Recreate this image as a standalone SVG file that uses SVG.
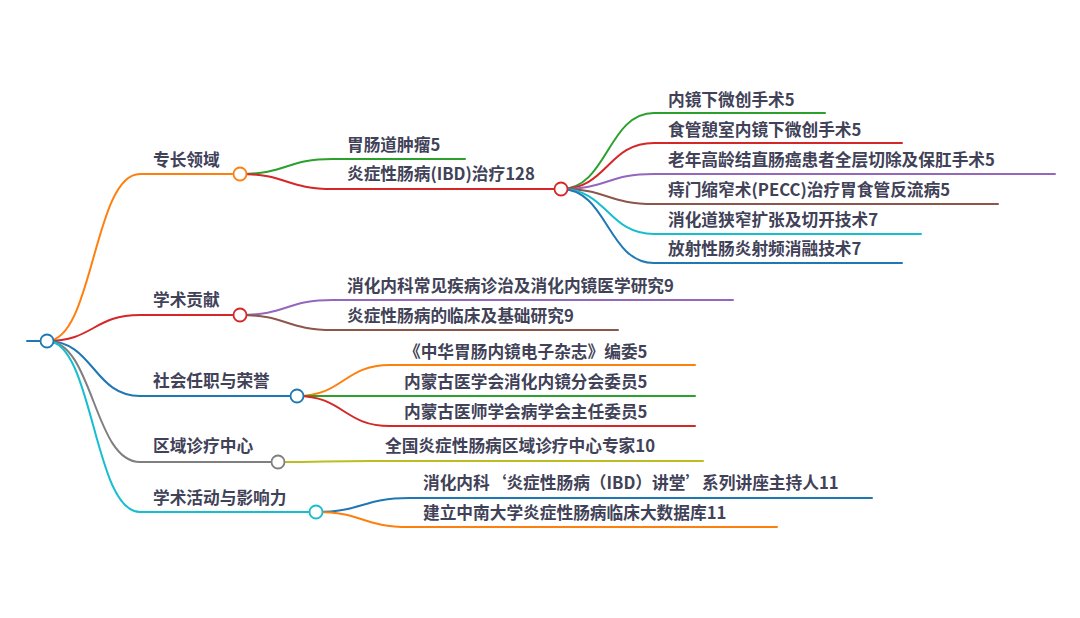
<svg xmlns="http://www.w3.org/2000/svg" width="1080" height="618" viewBox="0 0 1080 618">
<style>
.t{font-family:"Noto Sans CJK SC","Microsoft YaHei",sans-serif;font-size:16.7px;font-weight:700;fill:#414258}
.l{fill:none;stroke-width:2;stroke-linecap:round}
.c{fill:#fff;stroke-width:1.8}
.k{fill:none;stroke-width:2}
.blue{stroke:#1f77b4}.orange{stroke:#ff7f0e}.green{stroke:#2ca02c}.red{stroke:#d62728}.purple{stroke:#9467bd}.brown{stroke:#8c564b}.grey{stroke:#7f7f7f}.olive{stroke:#bcbd22}.cyan{stroke:#17becf}
</style>
<rect width="1080" height="618" fill="#fff"/>
<g id="connectors">
<path class="k orange" d="M47 341 C93.5 341 93.5 174 140 174"/>
<path class="k red" d="M47 341 C93.5 341 93.5 315 140 315"/>
<path class="k blue" d="M47 341 C93.5 341 93.5 396 140 396"/>
<path class="k grey" d="M47 341 C93.5 341 93.5 462 140 462"/>
<path class="k cyan" d="M47 341 C93.5 341 93.5 512 140 512"/>
<path class="k green" d="M240 174 C286.5 174 286.5 159 333 159"/>
<path class="k red" d="M240 174 C286.5 174 286.5 189 333 189"/>
<path class="k green" d="M561 189 C607.5 189 607.5 113 654 113"/>
<path class="k red" d="M561 189 C607.5 189 607.5 143 654 143"/>
<path class="k purple" d="M561 189 C607.5 189 607.5 174 654 174"/>
<path class="k brown" d="M561 189 C607.5 189 607.5 204 654 204"/>
<path class="k cyan" d="M561 189 C607.5 189 607.5 234 654 234"/>
<path class="k blue" d="M561 189 C607.5 189 607.5 263 654 263"/>
<path class="k purple" d="M240 315 C286.5 315 286.5 300 333 300"/>
<path class="k brown" d="M240 315 C286.5 315 286.5 330 333 330"/>
<path class="k orange" d="M297 396 C343.5 396 343.5 365 390 365"/>
<path class="k green" d="M297 396 C343.5 396 343.5 396 390 396"/>
<path class="k red" d="M297 396 C343.5 396 343.5 426 390 426"/>
<path class="k olive" d="M278 462 C324.5 462 324.5 461 371 461"/>
<path class="k blue" d="M316 512 C362.5 512 362.5 498 409 498"/>
<path class="k orange" d="M316 512 C362.5 512 362.5 527 409 527"/>
</g>
<g id="root"><path class="l blue" d="M27 341 H47"/><circle class="c blue" cx="47" cy="341" r="6.5"/></g>
<g id="n1"><path class="l orange" d="M140 174 H240"/><text class="t" x="153" y="166">专长领域</text><circle class="c orange" cx="240" cy="174" r="6.5"/></g>
<g id="n1a"><path class="l green" d="M333 159 H465"/><text class="t" x="347" y="151">胃肠道肿瘤5</text></g>
<g id="n1b"><path class="l red" d="M333 189 H561"/><text class="t" x="347" y="180">炎症性肠病(IBD)治疗128</text><circle class="c red" cx="561" cy="189" r="6.5"/></g>
<g id="n1b1"><path class="l green" d="M654 113 H825"/><text class="t" x="668" y="106">内镜下微创手术5</text></g>
<g id="n1b2"><path class="l red" d="M654 143 H902"/><text class="t" x="668" y="136">食管憩室内镜下微创手术5</text></g>
<g id="n1b3"><path class="l purple" d="M654 174 H1055"/><text class="t" x="668" y="166">老年高龄结直肠癌患者全层切除及保肛手术5</text></g>
<g id="n1b4"><path class="l brown" d="M654 204 H998"/><text class="t" x="668" y="196">痔门缩窄术(PECC)治疗胃食管反流病5</text></g>
<g id="n1b5"><path class="l cyan" d="M654 234 H921"/><text class="t" x="668" y="226">消化道狭窄扩张及切开技术7</text></g>
<g id="n1b6"><path class="l blue" d="M654 263 H902"/><text class="t" x="668" y="255">放射性肠炎射频消融技术7</text></g>
<g id="n2"><path class="l red" d="M140 315 H240"/><text class="t" x="153" y="306">学术贡献</text><circle class="c red" cx="240" cy="315" r="6.5"/></g>
<g id="n2a"><path class="l purple" d="M333 300 H733"/><text class="t" x="347" y="292">消化内科常见疾病诊治及消化内镜医学研究9</text></g>
<g id="n2b"><path class="l brown" d="M333 330 H618"/><text class="t" x="347" y="322">炎症性肠病的临床及基础研究9</text></g>
<g id="n3"><path class="l blue" d="M140 396 H297"/><text class="t" x="153" y="387">社会任职与荣誉</text><circle class="c blue" cx="297" cy="396" r="6.5"/></g>
<g id="n3a"><path class="l orange" d="M390 365 H695"/><text class="t" x="404" y="358">《中华胃肠内镜电子杂志》编委5</text></g>
<g id="n3b"><path class="l green" d="M390 396 H695"/><text class="t" x="404" y="388">内蒙古医学会消化内镜分会委员5</text></g>
<g id="n3c"><path class="l red" d="M390 426 H695"/><text class="t" x="404" y="418">内蒙古医师学会病学会主任委员5</text></g>
<g id="n4"><path class="l grey" d="M140 462 H278"/><text class="t" x="153" y="452">区域诊疗中心</text><circle class="c grey" cx="278" cy="462" r="6.5"/></g>
<g id="n4a"><path class="l olive" d="M371 461 H703"/><text class="t" x="385" y="452">全国炎症性肠病区域诊疗中心专家10</text></g>
<g id="n5"><path class="l cyan" d="M140 512 H316"/><text class="t" x="153" y="504">学术活动与影响力</text><circle class="c cyan" cx="316" cy="512" r="6.5"/></g>
<g id="n5a"><path class="l blue" d="M409 498 H872"/><text class="t" x="423" y="489">消化内科‘炎症性肠病（IBD）讲堂’系列讲座主持人11</text></g>
<g id="n5b"><path class="l orange" d="M409 527 H777"/><text class="t" x="423" y="519">建立中南大学炎症性肠病临床大数据库11</text></g>
</svg>
